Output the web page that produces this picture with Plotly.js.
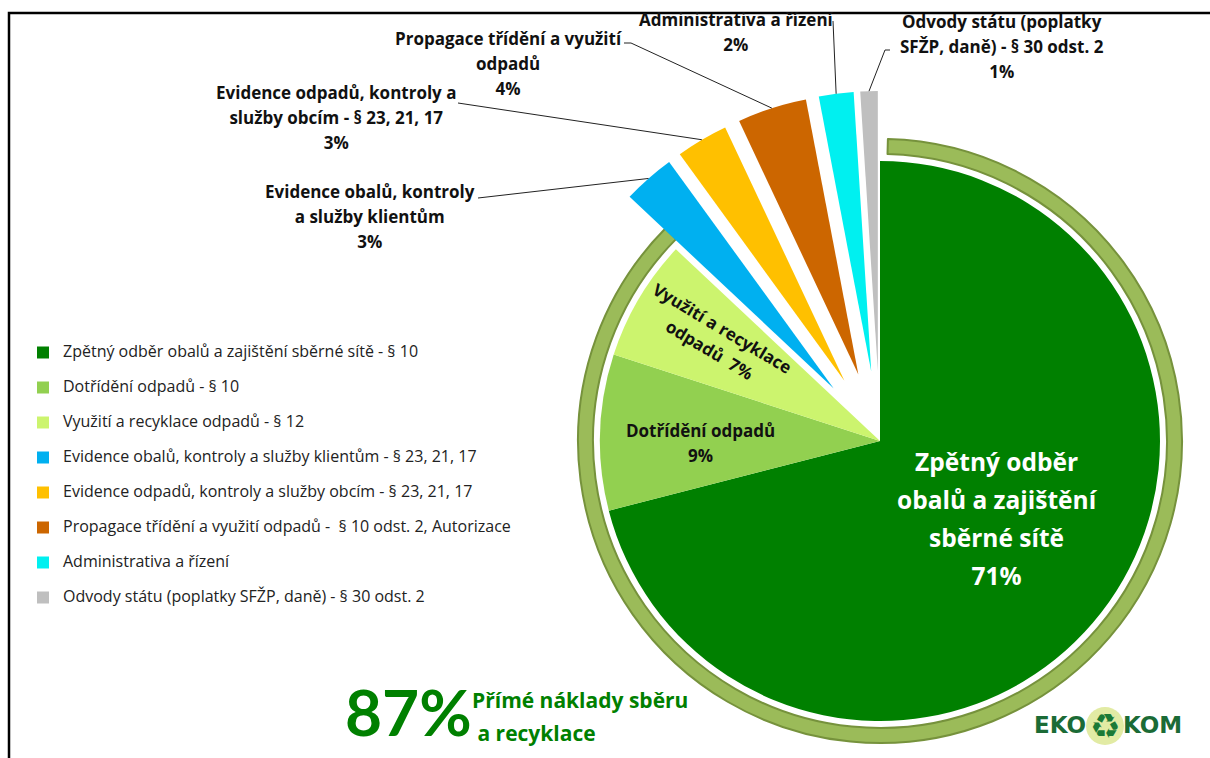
<!DOCTYPE html>
<html><head><meta charset="utf-8">
<script src="https://cdn.plot.ly/plotly-3.0.1.min.js"></script>
<style>
html,body{margin:0;padding:0;overflow:hidden;background:#fff;width:1210px;height:758px}
#chart{position:absolute;left:0;top:0;width:1400px;height:900px}
</style>
</head><body><div id="chart"></div>
<script>
// ---------- data ----------
const categories = [
  'Zpětný odběr obalů a zajištění sběrné sítě - § 10',
  'Dotřídění odpadů - § 10',
  'Využití a recyklace odpadů - § 12',
  'Evidence obalů, kontroly a služby klientům - § 23, 21, 17',
  'Evidence odpadů, kontroly a služby obcím - § 23, 21, 17',
  'Propagace třídění a využití odpadů -  § 10 odst. 2, Autorizace',
  'Administrativa a řízení',
  'Odvody státu (poplatky SFŽP, daně) - § 30 odst. 2'
];
const values = [71, 9, 7, 3, 3, 4, 2, 1];
const calloutNames = [
  ['Zpětný odběr', 'obalů a zajištění', 'sběrné sítě'],
  ['Dotřídění odpadů'],
  ['Využití a recyklace', 'odpadů'],
  ['Evidence obalů, kontroly', 'a služby klientům'],
  ['Evidence odpadů, kontroly a', 'služby obcím - § 23, 21, 17'],
  ['Propagace třídění a využití', 'odpadů'],
  ['Administrativa a řízení'],
  ['Odvody státu (poplatky', 'SFŽP, daně) - § 30 odst. 2']
];
const directShareIdx = [0, 1, 2];           // slices summed into the ring
const directShareText = ['Přímé náklady sběru', '\u00a0a recyklace'];

// ---------- style ----------
const colors = ['#008000', '#92D050', '#CCF46E', '#00B0F0', '#FFC000', '#CC6600', '#00F0F0', '#BFBFBF'];
const pulls = [0, 0, 0, 0.25, 0.25, 0.25, 0.25, 0.25];
const W = 1400, H = 900;
const CX = 880, CY = 441, R = 280;
const RING_OUT = 302, RING_IN = 287;
const FONT = '"Open Sans", Lato, sans-serif';
const fx = x => x / W, fy = y => 1 - y / H;

const total = values.reduce((a, b) => a + b, 0);
const maxPull = Math.max(...pulls);
const half = R * (1 + maxPull);
const ringValue = directShareIdx.reduce((s, i) => s + values[i], 0);

function pct(i) { return Math.round(values[i] / total * 100) + '%'; }
function slicePoint(i) {
  let cum = 0; for (let j = 0; j < i; j++) cum += values[j];
  const a = (cum + values[i] / 2) / total * 2 * Math.PI;
  const rr = R * (1 + pulls[i]);
  return [CX + rr * Math.sin(a), CY - rr * Math.cos(a)];
}
function spans(lines, size) {
  return lines.map(l => `<span style="font-size:${size}px">${l}</span>`).join('<br>');
}

const pie = {
  type: 'pie', labels: categories.map(c => `<span style="font-size:16px">${c}</span><br>\u00a0`),
  hovertext: categories, values: values, sort: false, direction: 'clockwise', rotation: 0,
  pull: pulls, marker: { colors: colors, line: { color: '#ffffff', width: 0 } },
  textinfo: 'none', hoverinfo: 'text+percent',
  domain: { x: [fx(CX - half), fx(CX + half)], y: [fy(CY + half), fy(CY - half)] },
  showlegend: true
};
const ring = {
  type: 'pie', labels: ['87', 'rest'], values: [ringValue, total - ringValue], sort: false,
  direction: 'clockwise', rotation: 1.5, hole: RING_IN / RING_OUT,
  marker: { colors: ['#9BBB59', 'rgba(0,0,0,0)'], line: { color: ['#76923C', 'rgba(0,0,0,0)'], width: 2 } },
  textinfo: 'none', hoverinfo: 'skip', showlegend: false,
  domain: { x: [fx(CX - RING_OUT), fx(CX + RING_OUT)], y: [fy(CY + RING_OUT), fy(CY - RING_OUT)] }
};

// ---------- labels ----------
const LBL = 17, PITCH = 25;
const labelPos = [
  { x: 997, y: 518, size: 24.5, pitch: 38, color: '#ffffff', angle: 0 },
  { x: 701, y: 443, size: LBL, pitch: PITCH, color: '#111', angle: 0 },
  { x: 716, y: 339, size: LBL, pitch: PITCH, color: '#111', angle: 31 },
  { x: 370, y: 217, size: LBL, pitch: PITCH, color: '#111', angle: 0 },
  { x: 336, y: 117, size: LBL, pitch: PITCH, color: '#111', angle: 0 },
  { x: 508, y: 63, size: LBL, pitch: PITCH, color: '#111', angle: 0 },
  { x: 736, y: 32, size: LBL, pitch: PITCH, color: '#111', angle: 0 },
  { x: 1002, y: 47, size: LBL, pitch: PITCH, color: '#111', angle: 0 }
];
const annotations = labelPos.map((p, i) => {
  let lines = calloutNames[i].slice();
  if (i === 2) lines[lines.length - 1] += '\u00a0 ' + pct(i); else lines.push(pct(i));
  return {
    xref: 'paper', yref: 'paper', x: fx(p.x), y: fy(p.y), xanchor: 'center', yanchor: 'middle',
    showarrow: false, textangle: p.angle, align: 'center',
    text: spans(lines, p.size),
    font: { family: FONT, size: p.pitch / 1.3, color: p.color, weight: 'bold' }
  };
});
annotations.push({
  xref: 'paper', yref: 'paper', x: fx(343), y: fy(711), xanchor: 'left', yanchor: 'middle', showarrow: false,
  text: Math.round(ringValue / total * 100) + '%', font: { family: 'Lato, sans-serif', size: 64, color: '#008000', weight: 'bold' }
});
annotations.push({
  xref: 'paper', yref: 'paper', x: fx(470), y: fy(716), xanchor: 'left', yanchor: 'middle', showarrow: false, align: 'left',
  text: spans(directShareText, 21), font: { family: FONT, size: 33 / 1.3, color: '#008000', weight: 'bold' }
});
// logo
annotations.push({ xref: 'paper', yref: 'paper', x: fx(1088), y: fy(725), xanchor: 'right', yanchor: 'middle', showarrow: false,
  text: 'EKO', font: { family: '"DejaVu Sans"', size: 23, color: '#1B6B36', weight: 'bold' } });
annotations.push({ xref: 'paper', yref: 'paper', x: fx(1121), y: fy(725), xanchor: 'left', yanchor: 'middle', showarrow: false,
  text: 'KOM', font: { family: '"DejaVu Sans"', size: 23, color: '#1B6B36', weight: 'bold' } });
annotations.push({ xref: 'paper', yref: 'paper', x: fx(1105), y: fy(726), xanchor: 'center', yanchor: 'middle', showarrow: false,
  text: '♻', font: { family: '"DejaVu Sans"', size: 34, color: '#1B7A36' } });

// ---------- leader lines ----------
const leaderStarts = { 3: [[478, 198]], 4: [[458, 103]], 5: [[624, 43], [631, 43]], 6: [[833, 21]], 7: [[890, 50], [885, 50]] };
const shapes = [];
Object.keys(leaderStarts).forEach(k => {
  const pts = leaderStarts[k].concat([slicePoint(+k)]);
  const d = pts.map((p, j) => (j ? 'L' : 'M') + fx(p[0]) + ',' + fy(p[1])).join(' ');
  shapes.push({ type: 'path', xref: 'paper', yref: 'paper', path: d, line: { color: '#222', width: 1 } });
});
// frame
shapes.push({ type: 'rect', xref: 'paper', yref: 'paper', x0: fx(9), x1: fx(1350), y0: fy(860), y1: fy(13),
  line: { color: '#000', width: 2.5 }, fillcolor: 'rgba(0,0,0,0)' });
// logo disc
shapes.push({ type: 'circle', xref: 'paper', yref: 'paper', x0: fx(1086), x1: fx(1124), y0: fy(745), y1: fy(707),
  fillcolor: '#E2EBA4', line: { width: 0 }, layer: 'below' });

const layout = {
  width: W, height: H, margin: { l: 0, r: 0, t: 0, b: 0 }, paper_bgcolor: '#fff',
  showlegend: true,
  legend: {
    x: fx(23), y: fy(338), xanchor: 'left', yanchor: 'top', valign: 'top',
    font: { family: FONT, size: 16 / 1.3, color: '#222' }, bgcolor: 'rgba(0,0,0,0)', traceorder: 'normal'
  },
  annotations: annotations, shapes: shapes
};

Plotly.newPlot('chart', [ring, pie], layout, { displayModeBar: false, staticPlot: true });
</script></body></html>
